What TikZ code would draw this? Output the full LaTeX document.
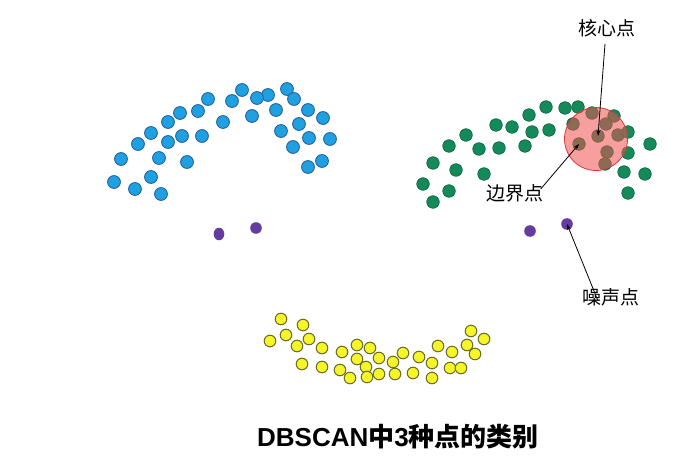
\documentclass[tikz,border=0pt]{standalone}
\usepackage{fontspec}
\setmainfont{Liberation Sans}
\newfontfamily\cjk{Noto Sans CJK SC}
\usetikzlibrary{arrows.meta}

\definecolor{bluefill}{RGB}{30,160,225}
\definecolor{blueline}{RGB}{40,100,160}
\definecolor{greenfill}{RGB}{20,138,90}
\definecolor{greenline}{RGB}{14,100,66}
\definecolor{yellowfill}{RGB}{245,245,40}
\definecolor{yellowline}{RGB}{110,110,40}
\definecolor{noisefill}{RGB}{100,60,160}
\definecolor{epsfill}{RGB}{240,80,80}
\definecolor{epsline}{RGB}{215,60,60}

\tikzset{
  bluedot/.style={fill=bluefill, draw=blueline, line width=0.9pt},
  greendot/.style={fill=greenfill, draw=greenline, line width=0.6pt},
  yellowdot/.style={fill=yellowfill, draw=yellowline, line width=1pt},
  noisedot/.style={fill=noisefill},
  label/.style={font=\cjk\fontsize{19}{22}\selectfont, inner sep=1pt},
  pointer/.style={->, line width=0.8pt}
}

\begin{document}
\begin{tikzpicture}[x=1pt, y=-1pt, >={Stealth[length=6pt,width=4pt]}]
  \useasboundingbox (0,0) rectangle (699,476);

  % Cụm xanh dương
  \foreach \p in {(242,90),(287,89),(268,95),(257,98),(232,101),(208,99),(294,99),
      (198,111),(180,113),(168,122),(276,110),(308,110),(323,118),(252,116),
      (223,122),(299,124),(151,133),(182,136),(202,136),(168,142),(138,144),
      (281,131),(309,138),(330,139),(293,147),(121,159),(159,158),(187,162),
      (322,161),(308,167),(151,177),(114,182),(135,189),(161,194)}
    \filldraw[bluedot] \p circle (6.4);

  % Cụm xanh lá
  \foreach \p in {(546,107),(565,108),(578,107),(529,115),(592,113),(614,116),
      (573,124),(606,124),(496,125),(512,127),(532,132),(549,130),(618,135),
      (628,132),(466,135),(449,146),(479,149),(499,148),(525,146),(650,144),
      (607,152),(628,153),(433,163),(456,170),(484,174),(605,164),(624,172),
      (645,174),(423,184),(449,191),(628,193),(433,202)}
    \filldraw[greendot] \p circle (6.3);
  \coordinate (core) at (598,136);
  \coordinate (border) at (579,144);
  \filldraw[greendot] (core) circle (6.3);
  \filldraw[greendot] (border) circle (6.3);

  % Vùng lân cận
  \filldraw[fill=epsfill, fill opacity=0.55, draw=epsline, line width=0.8pt]
    (596,139) circle (31.5);

  % Cụm vàng
  \foreach \p in {(281,319),(303,325),(286,335),(309,339),(270,341),(297,346),
      (322,348),(342,352),(357,345),(370,348),(357,359),(379,358),(403,353),
      (393,362),(419,357),(432,363),(438,346),(452,352),(467,345),(471,331),
      (484,339),(475,354),(302,364),(322,367),(340,370),(366,367),(350,378),
      (367,377),(379,374),(395,374),(413,373),(432,378),(450,368),(461,368)}
    \filldraw[yellowdot] \p circle (5.8);

  % Điểm nhiễu
  \coordinate (noise) at (567,224);
  \fill[noisedot] (219,234) ellipse (5.3 and 6.3);
  \fill[noisedot] (256,228) circle (5.8);
  \fill[noisedot] (530,231) circle (5.8);
  \fill[noisedot] (noise) circle (5.8);

  % Nhãn
  \node[label] (corelbl) at (607,28) {核心点};
  \node[label] (borderlbl) at (515,193) {边界点};
  \node[label] (noiselbl) at (611,297) {噪声点};
  \draw[pointer] ([xshift=-2pt,yshift=-6pt]corelbl.south) -- (core);
  \draw[pointer] ([xshift=-4pt,yshift=-6pt]borderlbl.north east) -- (border);
  \draw[pointer] ([xshift=-13pt,yshift=-14pt]noiselbl.north) -- (noise);

  \node[font=\fontsize{26}{30}\selectfont\bfseries] (title) at (398,437)
    {DBSCAN{\cjk 中}3{\cjk 种点的类别}};
\end{tikzpicture}
\end{document}
